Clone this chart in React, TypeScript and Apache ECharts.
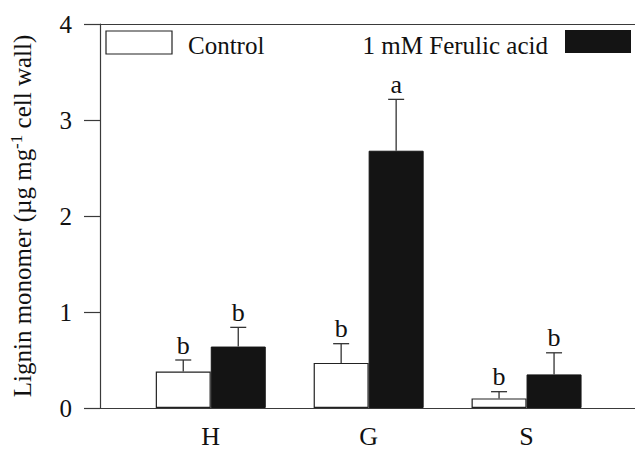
import React, { useEffect, useRef } from "react";
import * as echarts from "echarts";

const categories = ["H", "G", "S"];
const controlMeans = [0.38, 0.47, 0.1];
const controlErr = [0.12, 0.2, 0.07];
const ferulicMeans = [0.64, 2.68, 0.35];
const ferulicErr = [0.2, 0.535, 0.225];
const controlLetters = ["b", "b", "b"];
const ferulicLetters = ["b", "a", "b"];
const yTicks = [0, 1, 2, 3, 4];

const FONT = "'Liberation Serif', 'Times New Roman', serif";
const AXIS_COLOR = "#3a3a3a";

function errSeries(name: string, means: number[], errs: number[], letters: string[], offset: number) {
  return {
    type: "custom",
    name,
    xAxisIndex: 0,
    yAxisIndex: 0,
    silent: true,
    z: 5,
    data: means.map((m, i) => [i, m, errs[i]]),
    renderItem: (params: any, api: any) => {
      const idx = api.value(0);
      const mean = api.value(1);
      const err = api.value(2);
      const base = api.coord([idx, mean]);
      const top = api.coord([idx, mean + err]);
      const x = base[0] + offset;
      return {
        type: "group",
        children: [
          {
            type: "line",
            shape: { x1: x, y1: base[1], x2: x, y2: top[1] },
            style: { stroke: "#333", lineWidth: 1.3 },
          },
          {
            type: "line",
            shape: { x1: x - 8, y1: top[1], x2: x + 8, y2: top[1] },
            style: { stroke: "#333", lineWidth: 1.3 },
          },
          {
            type: "text",
            x: x,
            y: top[1] - 2,
            style: {
              text: letters[idx],
              font: `26px ${FONT}`,
              fill: "#111",
              textAlign: "center",
              textVerticalAlign: "bottom",
            },
          },
        ],
      };
    },
  };
}

export default function App() {
  const ref = useRef<HTMLDivElement>(null);
  useEffect(() => {
    if (!ref.current) return;
    const chart = echarts.init(ref.current, undefined, { renderer: "svg" });
    const option: any = {
      animation: false,
      backgroundColor: "#ffffff",
      textStyle: { fontFamily: FONT },
      grid: [
        { left: 131.8, width: 473.7, top: 24, height: 384 },
        { left: 100, right: 0, top: 24, height: 384 },
      ],
      xAxis: [
        {
          type: "category",
          gridIndex: 0,
          data: categories,
          axisLine: { show: false },
          axisTick: { show: false },
          axisLabel: { fontSize: 26, fontFamily: FONT, color: "#111", margin: 15 },
          splitLine: { show: false },
        },
        {
          type: "value",
          gridIndex: 1,
          min: 0,
          max: 1,
          position: "bottom",
          axisLine: { show: true, onZero: false, lineStyle: { color: AXIS_COLOR, width: 1.2 } },
          axisTick: { show: false },
          axisLabel: { show: false },
          splitLine: { show: false },
        },
        {
          type: "value",
          gridIndex: 1,
          min: 0,
          max: 1,
          position: "top",
          axisLine: { show: true, onZero: false, lineStyle: { color: AXIS_COLOR, width: 1.2 } },
          axisTick: { show: false },
          axisLabel: { show: false },
          splitLine: { show: false },
        },
      ],
      yAxis: [
        {
          type: "value",
          gridIndex: 0,
          min: 0,
          max: 4,
          show: false,
        },
        {
          type: "value",
          gridIndex: 1,
          min: 0,
          max: 4,
          interval: 1,
          axisLine: { show: true, lineStyle: { color: AXIS_COLOR, width: 1.2 } },
          axisTick: { show: true, inside: false, length: 16, lineStyle: { color: AXIS_COLOR, width: 1.2 } },
          axisLabel: {
            fontSize: 25,
            fontFamily: FONT,
            color: "#111",
            margin: 28,
            formatter: (v: number) => (yTicks.includes(v) ? String(v) : ""),
          },
          splitLine: { show: false },
          name: "{t|Lignin monomer (µg mg}{sup|-1}{t| cell wall)}",
          nameLocation: "middle",
          nameRotate: 90,
          nameGap: 63,
          nameTextStyle: {
            fontSize: 25,
            fontFamily: FONT,
            color: "#111",
            rich: {
              t: { fontSize: 25, fontFamily: FONT, color: "#111" },
              sup: { fontSize: 17, fontFamily: FONT, color: "#111", verticalAlign: "top", padding: [0, 0, 12, 0] },
            },
          },
        },
      ],
      series: [
        {
          type: "bar",
          name: "Control",
          xAxisIndex: 0,
          yAxisIndex: 0,
          data: controlMeans,
          barWidth: 55,
          barGap: "0%",
          itemStyle: { color: "#ffffff", borderColor: "#222", borderWidth: 1.2 },
        },
        {
          type: "bar",
          name: "1 mM Ferulic acid",
          xAxisIndex: 0,
          yAxisIndex: 0,
          data: ferulicMeans,
          barWidth: 55,
          barGap: "0%",
          itemStyle: { color: "#141414", borderColor: "#141414", borderWidth: 1 },
        },
        errSeries("ctrlErr", controlMeans, controlErr, controlLetters, -27.5),
        errSeries("ferErr", ferulicMeans, ferulicErr, ferulicLetters, 27.5),
      ],
      graphic: [
        {
          type: "rect",
          shape: { x: 106, y: 31, width: 66, height: 23 },
          style: { fill: "#fff", stroke: "#222", lineWidth: 1.2 },
        },
        {
          type: "text",
          x: 188,
          y: 45.5,
          style: {
            text: "Control",
            font: `25px ${FONT}`,
            fill: "#111",
            textAlign: "left",
            textVerticalAlign: "middle",
          },
        },
        {
          type: "text",
          x: 548,
          y: 45.5,
          style: {
            text: "1 mM Ferulic acid",
            font: `25px ${FONT}`,
            fill: "#111",
            textAlign: "right",
            textVerticalAlign: "middle",
          },
        },
        {
          type: "rect",
          shape: { x: 565, y: 30, width: 66, height: 23 },
          style: { fill: "#141414" },
        },
      ],
    };
    chart.setOption(option);
    return () => chart.dispose();
  }, []);
  return (
    <div
      ref={ref}
      style={{ position: "fixed", left: 0, top: 0, width: 635, height: 449 }}
    />
  );
}
